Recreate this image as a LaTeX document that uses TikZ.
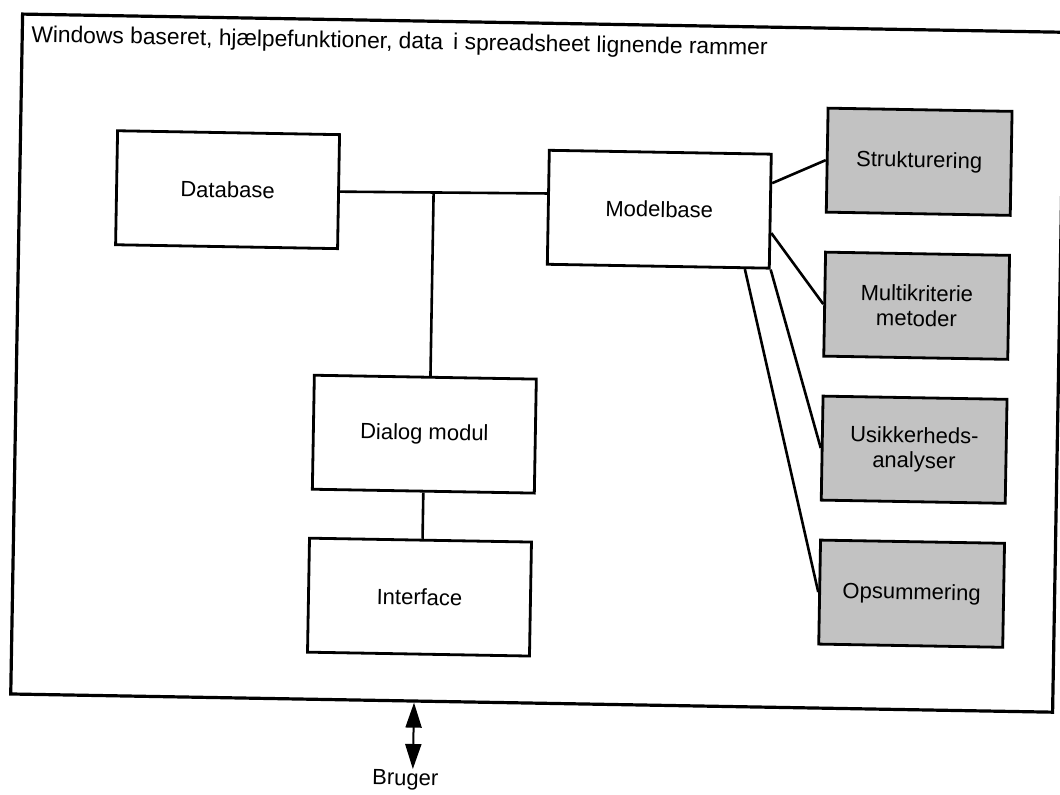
\documentclass[tikz,border=0pt]{standalone}
\usepackage{fontspec}
\setmainfont{Liberation Sans}
\usetikzlibrary{arrows.meta,calc}
\begin{document}
\begin{tikzpicture}[x=1pt,y=-1pt,
  box/.style={draw=black, line width=2.8pt, fill=white, minimum width=222pt, minimum height=114pt, inner sep=0pt, font=\fontsize{22}{25}\selectfont},
  sbox/.style={box, fill=black!24, minimum width=184pt, minimum height=104pt, align=center},
  conn/.style={line width=2.6pt},
  lbl/.style={font=\fontsize{22}{25}\selectfont, inner sep=1pt},
  bigtip/.tip={Triangle[length=25pt,width=16pt]}
  ]
\useasboundingbox (0,0) rectangle (1060,795);
\fill[white] (0,0) rectangle (1060,795);
\begin{scope}[rotate around={-1:(530,397)}, transform shape]
  % outer frame
  \node[draw, line width=3.2pt, minimum width=1042pt, minimum height=680pt, inner sep=0pt] (frame) at (537,363) {};
  \node[lbl, font=\fontsize{22.8}{26}\selectfont, anchor=base west] (title) at (24,51) {Windows baseret, hjælpefunktioner, data\, i spreadsheet lignende rammer};
  % main boxes
  \node[box] (db)  at (224,195) {Database};
  \node[box] (mb)  at (656,207) {Modelbase};
  \node[box] (dlg) at (425,436) {Dialog modul};
  \node[box] (ifc) at (423,599) {Interface};
  % method boxes
  \node[sbox] (st) at (915,155) {Strukturering};
  \node[sbox] (mk) at (915,299) {Multikriterie\\metoder};
  \node[sbox] (us) at (915,443) {Usikkerheds-\\analyser};
  \node[sbox] (op) at (915,587) {Opsummering};
  % connectors
  \draw[conn] (db.east) -- (mb.173.8);
  \coordinate (j) at ($(db.east)!0.452!(mb.173.8)$);
  \draw[conn] (j) -- (dlg.85);
  \draw[conn] (dlg.south) -- (ifc.88);
  \draw[conn] (mb.14.6) -- (st.west);
  \draw[conn] (mb.-11.2) -- (mk.west);
  \draw[conn] (mb.south east) -- (us.west);
  \draw[conn] (mb.-34.5) -- (op.west);
  % user
  \node[lbl, anchor=north] (br) at (412,771) {Bruger};
  \coordinate (fb) at (frame.-109.3);
  \draw[line width=2pt, {bigtip}-{bigtip}] (fb) -- (fb |- br.north);
\end{scope}
\end{tikzpicture}
\end{document}
